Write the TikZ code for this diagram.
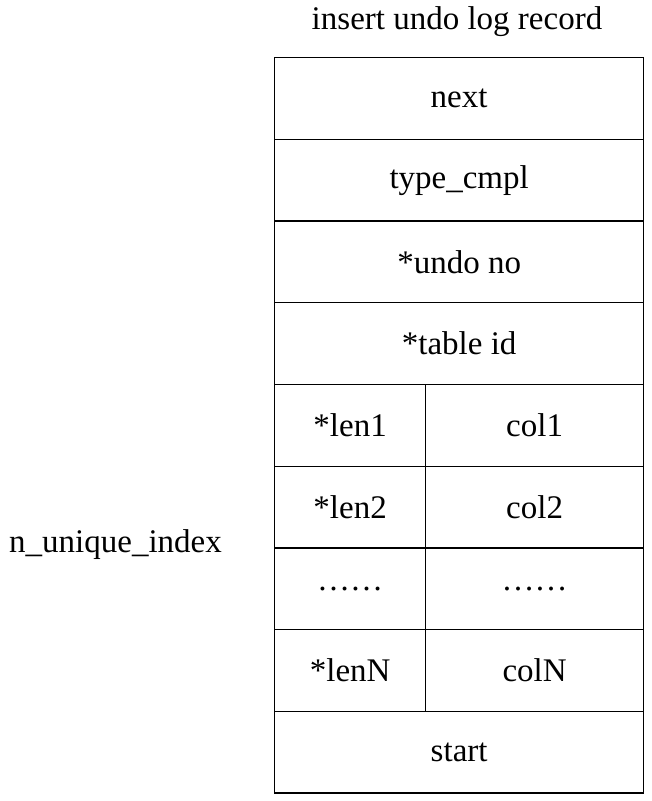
\documentclass[tikz,border=0pt]{standalone}
\usepackage{fontspec}
\setmainfont{Liberation Serif}
\begin{document}
\begin{tikzpicture}[x=1pt,y=-1pt,
  cell/.style={draw=black,line width=1.3pt,anchor=north west,inner sep=0pt,font=\fontsize{33}{36}\selectfont},
  lbl/.style={font=\fontsize{33}{36}\selectfont,inner sep=0pt}]
\useasboundingbox (0,0) rectangle (652,801);
\def\L{274}\def\M{425}\def\R{643}
\foreach \i/\t in {0/next,1/type\_cmpl,2/*undo no,3/*table id}{
  \node[cell,minimum width=369pt,minimum height=81.7pt] (r\i) at (\L,{57+81.7*\i}) {\t};
}
\foreach \i/\a/\b in {4/*len1/col1,5/*len2/col2,6/……/……,7/*lenN/colN}{
  \node[cell,minimum width=151pt,minimum height=81.7pt] (a\i) at (\L,{57+81.7*\i}) {\a};
  \node[cell,minimum width=218pt,minimum height=81.7pt] (b\i) at (\M,{57+81.7*\i}) {\b};
}
\node[cell,minimum width=369pt,minimum height=81.7pt] (r8) at (\L,{57+81.7*8}) {start};
\node[lbl] (title) at (457,22) {insert undo log record};
\node[lbl,anchor=west] (idx) at (9,545) {n\_unique\_index};
\end{tikzpicture}
\end{document}
